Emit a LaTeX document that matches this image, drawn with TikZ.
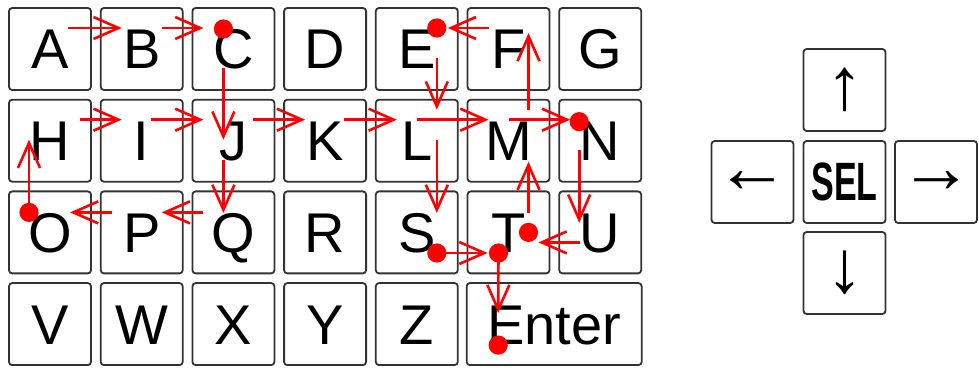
\documentclass[tikz,border=0pt]{standalone}
\usepackage{fontspec}
\setmainfont{Liberation Sans}
\usepackage{graphicx}
\usetikzlibrary{arrows.meta}
\tikzset{
  kb/.style={x=0.5pt, y=-0.5pt, >={Straight Barb[length=12.5pt, width=11pt]}},
  keycap/.style={draw=black!80, line width=0.9pt, fill=white, rounded corners=1.6pt,
                 minimum width=41pt, minimum height=41pt, inner sep=0pt, font=\fontsize{28pt}{30pt}\selectfont},
  key/.style={keycap, text height=20pt, text depth=0pt},
  padkey/.style={keycap, font=\fontsize{37pt}{40pt}\selectfont},
  move/.style={->, red, line width=1.3pt},
  hit/.style={red}
}
\newcommand{\seltext}{\scalebox{0.63}[1]{\fontsize{27pt}{28pt}\selectfont\bfseries SEL}}

\begin{document}
\begin{tikzpicture}[kb]
\useasboundingbox (0,0) rectangle (979,368);
% keyboard
\foreach \row [count=\r from 0] in {{A,B,C,D,E,F,G},{H,I,J,K,L,M,N},{O,P,Q,R,S,T,U},{V,W,X,Y,Z}}
  \foreach \ltr [count=\c from 0] in \row
    \node[key] (\ltr) at ({50+91.7*\c},{49+91.7*\r}) {\ltr};
\node[key, minimum width=87.5pt] (Enter) at (554.2,324.1) {Enter};
% direction pad
\node[keycap] (sel) at (844.5,182) {\seltext};
\node[padkey] (up) at (844.5,90) {↑};
\node[padkey] (down) at (844.5,273) {↓};
\node[padkey] (left) at (752.5,182) {←};
\node[padkey] (right) at (936,182) {→};
% path of the cursor
\draw[move] ([shift={(18,-21)}]A.center) -- ([shift={(-20,-21)}]B.center);
\draw[move] ([shift={(20,-21)}]B.center) -- ([shift={(-30,-21)}]C.center);
\draw[move] ([shift={(-10,19)}]C.center) -- ([shift={(-10,-1)}]J.center);
\draw[move] ([shift={(-10,19)}]J.center) -- ([shift={(-10,-19.4)}]Q.center);
\draw[move] ([shift={(-30,-20)}]Q.center) -- ([shift={(20,-20)}]P.center);
\draw[move] ([shift={(-30,-20)}]P.center) -- ([shift={(20,-20)}]O.center);
\draw[move] ([shift={(-21,-20)}]O.center) -- ([shift={(-21,-1)}]H.center);
\draw[move] ([shift={(30,-21)}]H.center) -- ([shift={(-20,-21)}]I.center);
\draw[move] ([shift={(9,-21)}]I.center) -- ([shift={(-30,-21)}]J.center);
\draw[move] ([shift={(20,-21)}]J.center) -- ([shift={(-20,-21)}]K.center);
\draw[move] ([shift={(19,-21)}]K.center) -- ([shift={(-20,-21)}]L.center);
\draw[move] ([shift={(0,-21)}]L.center) -- ([shift={(-20,-21)}]M.center);
\draw[move] ([shift={(0,-21)}]M.center) -- ([shift={(-30,-21)}]N.center);
\draw[move] ([shift={(-21,9)}]N.center) -- ([shift={(-21,-9.6)}]U.center);
\draw[move] ([shift={(-20,10)}]U.center) -- ([shift={(30,10)}]T.center);
\draw[move] ([shift={(20,-19.4)}]T.center) -- ([shift={(20,21)}]M.center);
\draw[move] ([shift={(20,-31)}]M.center) -- ([shift={(20,-16)}]F.center);
\draw[move] ([shift={(-20,-21)}]F.center) -- ([shift={(31,-21)}]E.center);
\draw[move] ([shift={(20,9)}]E.center) -- ([shift={(20,-31)}]L.center);
\draw[move] ([shift={(20,-1)}]L.center) -- ([shift={(20,-19.4)}]S.center);
\draw[move] ([shift={(20,20.6)}]S.center) -- ([shift={(-21,20.6)}]T.center);
\draw[move] ([shift={(-10,20.6)}]T.center) -- ([shift={(-56,-11)}]Enter.center);
% selected keys
\fill[hit] ([shift={(-10,-20)}]C.center) circle (4.8pt);
\fill[hit] ([shift={(-21,-20)}]O.center) circle (4.8pt);
\fill[hit] ([shift={(-21,-19)}]N.center) circle (4.8pt);
\fill[hit] ([shift={(20,0)}]T.center) circle (4.8pt);
\fill[hit] ([shift={(20,-21)}]E.center) circle (4.8pt);
\fill[hit] ([shift={(20,20.6)}]S.center) circle (4.8pt);
\fill[hit] ([shift={(-10,20.6)}]T.center) circle (4.8pt);
\fill[hit] ([shift={(-56,21)}]Enter.center) circle (4.8pt);
\end{tikzpicture}
\end{document}
